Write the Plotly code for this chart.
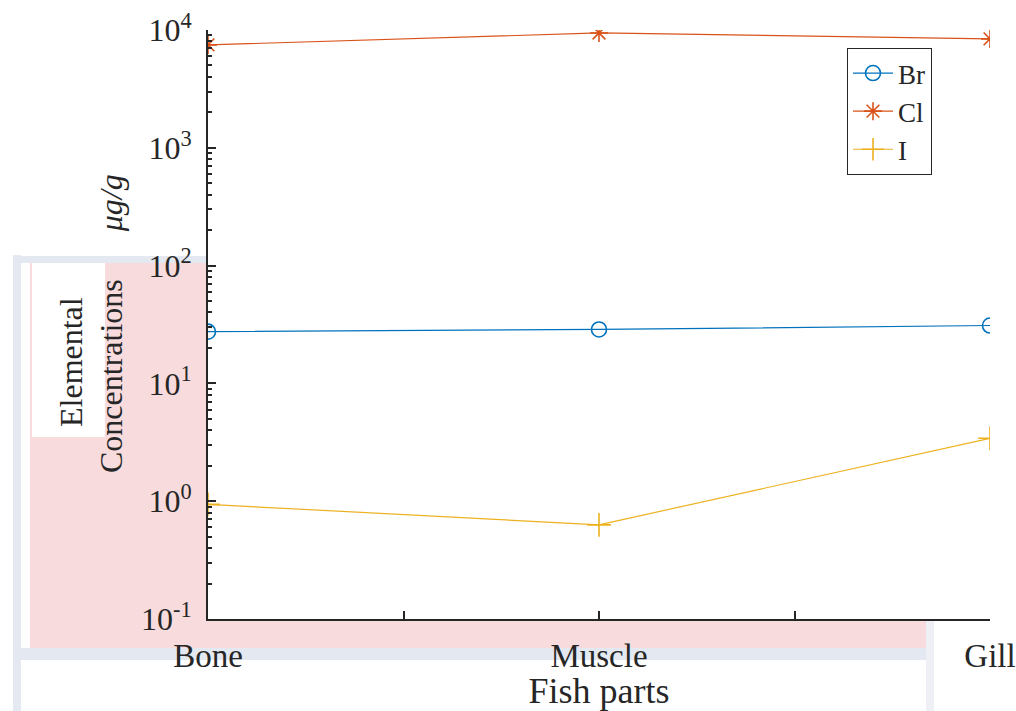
import plotly.graph_objects as go

categories = ["Bone", "Muscle", "Gill"]
br_values = [27.5, 28.7, 31.0]
cl_values = [7470, 9440, 8400]
i_values = [0.94, 0.63, 3.42]
y_tick_values = [0.1, 1, 10, 100, 1000, 10000]
y_tick_labels = ["10<sup>-1</sup>", "10<sup>0</sup>", "10<sup>1</sup>",
                 "10<sup>2</sup>", "10<sup>3</sup>", "10<sup>4</sup>"]

x_pos = list(range(1, len(categories) + 1))
FONT = "Liberation Serif, Times New Roman, serif"
AX = "#262626"

W, H = 1016, 711
# plot area in pixels: left 208, right 990, top 30, bottom 619
L, R, T, B = 208, 990, 30, 619
def px(x):
    return (x - L) / (R - L)
def py(y):
    return (B - y) / (B - T)

fig = go.Figure()
fig.add_trace(go.Scatter(x=x_pos, y=br_values, name="Br", mode="lines+markers",
                         line=dict(color="#0072BD", width=1.2),
                         marker=dict(symbol="circle-open", size=15, color="#0072BD",
                                     line=dict(width=1.6))))
fig.add_trace(go.Scatter(x=x_pos, y=cl_values, name="Cl", mode="lines+markers",
                         line=dict(color="#D95319", width=1.2),
                         marker=dict(symbol="asterisk-open", size=15, color="#D95319",
                                     line=dict(width=1.6, color="#D95319"))))
fig.add_trace(go.Scatter(x=x_pos, y=i_values, name="I", mode="lines+markers",
                         line=dict(color="#EDB120", width=1.2),
                         marker=dict(symbol="cross-thin-open", size=17, color="#EDB120",
                                     line=dict(width=1.6, color="#EDB120"))))

BAND = "#E4E8F0"
shapes = [
    # faint background watermark
    dict(type="rect", xref="paper", yref="paper", x0=px(30), x1=px(930), y0=py(263), y1=py(648),
         fillcolor="#F8DCDD", line=dict(width=0), layer="below"),
    dict(type="rect", xref="paper", yref="paper", x0=px(13), x1=px(21), y0=py(255), y1=py(711),
         fillcolor=BAND, line=dict(width=0), layer="below"),
    dict(type="rect", xref="paper", yref="paper", x0=px(21), x1=px(930), y0=py(648), y1=py(660),
         fillcolor=BAND, line=dict(width=0), layer="below"),
    dict(type="rect", xref="paper", yref="paper", x0=px(21), x1=px(930), y0=py(256), y1=py(263),
         fillcolor=BAND, line=dict(width=0), layer="below"),
    dict(type="rect", xref="paper", yref="paper", x0=px(926), x1=px(934), y0=py(620), y1=py(711),
         fillcolor="#EEF0F5", line=dict(width=0), layer="below"),
    dict(type="rect", xref="paper", yref="paper", x0=px(32), x1=px(105), y0=py(263), y1=py(437),
         fillcolor="white", line=dict(width=0), layer="below"),
    # white axes background
    dict(type="rect", xref="paper", yref="paper", x0=0, x1=1, y0=0, y1=1,
         fillcolor="white", line=dict(width=0), layer="below"),
]

fig.update_layout(
    width=W, height=H,
    margin=dict(l=L, r=W - R, t=T, b=H - B, autoexpand=False),
    paper_bgcolor="white", plot_bgcolor="white",
    font=dict(family=FONT, size=30, color=AX),
    shapes=shapes,
    showlegend=True,
    legend=dict(x=px(847), y=py(48), xanchor="left", yanchor="top",
                bgcolor="white", bordercolor=AX, borderwidth=1,
                font=dict(family=FONT, size=27, color=AX),
                tracegroupgap=0, itemwidth=40),
    xaxis=dict(range=[1, 3], tickmode="array", tickvals=[1, 1.5, 2, 2.5, 3],
               ticktext=[categories[0], "", categories[1], "", categories[2]],
               ticks="inside", ticklen=8, tickwidth=1.5, tickcolor=AX,
               showline=True, linecolor=AX, linewidth=2, mirror=False,
               showgrid=False, zeroline=False, ticklabelstandoff=6, automargin=False,
               ticklabeloverflow="allow",
               tickfont=dict(family=FONT, size=33, color=AX),
               title=dict(text="Fish parts", font=dict(family=FONT, size=36, color=AX),
                          standoff=4)),
    yaxis=dict(type="log", range=[-1, 4], tickmode="array", tickvals=y_tick_values,
               ticktext=y_tick_labels,
               ticks="inside", ticklen=8, tickwidth=1.5, tickcolor=AX,
               minor=dict(dtick="D1", ticks="inside", ticklen=4, tickwidth=1.5,
                          tickcolor=AX, showgrid=False),
               showline=True, linecolor=AX, linewidth=2, mirror=False,
               showgrid=False, zeroline=False, ticklabelstandoff=8, automargin=False,
               ticklabeloverflow="allow",
               tickfont=dict(family=FONT, size=32, color=AX)),
    annotations=[
        dict(text="Elemental", xref="paper", yref="paper", x=px(71), y=py(362),
             xanchor="center", yanchor="middle", textangle=-90, showarrow=False,
             font=dict(family=FONT, size=32, color=AX)),
        dict(text="Concentrations\u2003\u2002<i>μg/g</i>", xref="paper", yref="paper",
             x=px(111), y=py(324), xanchor="center", yanchor="middle", textangle=-90,
             showarrow=False, font=dict(family=FONT, size=32, color=AX)),
    ],
)

# remove the browser's default 8px page margin so the figure fills the window exactly
fig.write_html("out.html", config={"displayModeBar": False},
               post_script="document.body.style.margin='0';document.body.style.overflow='hidden';")
